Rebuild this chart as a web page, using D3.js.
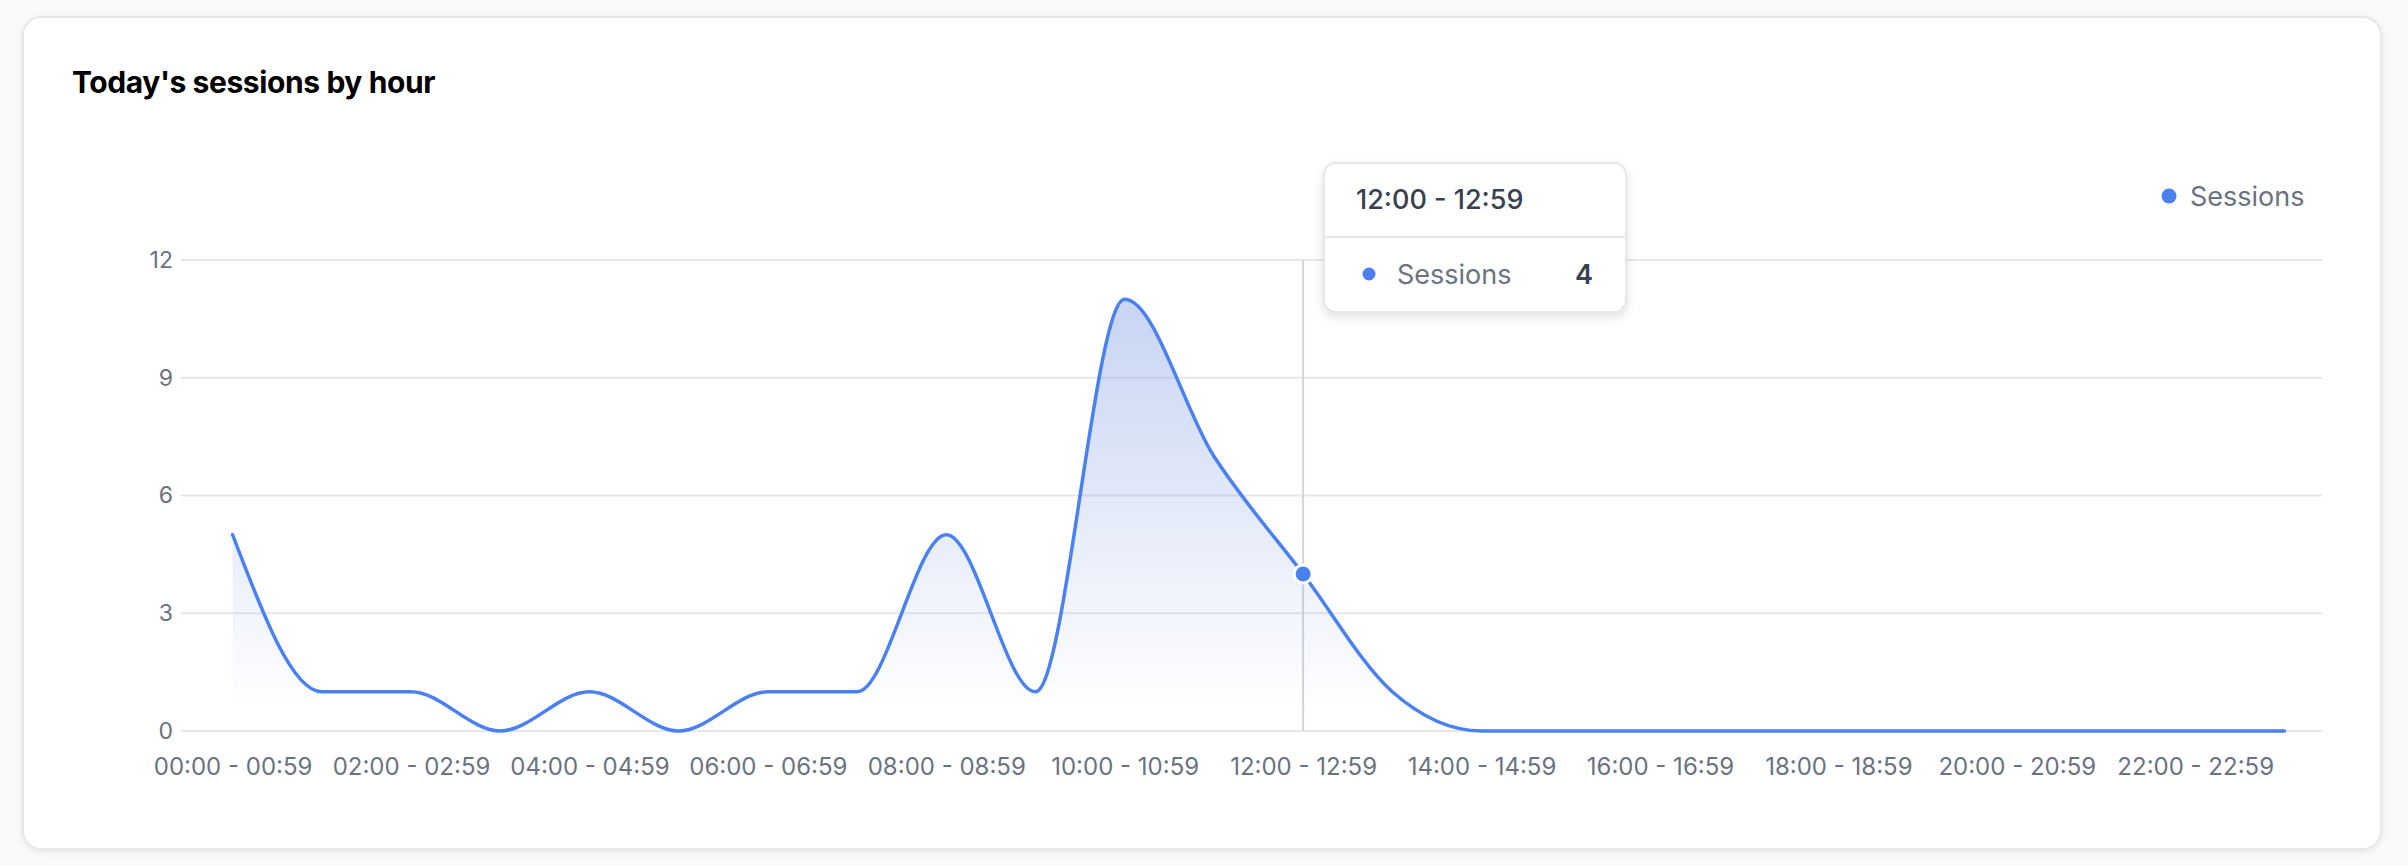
<!DOCTYPE html>
<html>
<head>
<meta charset="utf-8">
<script src="https://cdn.jsdelivr.net/npm/d3@7"></script>
<style>
  body { margin: 0; background: #fafafa; font-family: Inter, "Noto Sans", sans-serif; }
</style>
</head>
<body>
<script>
// data
let hours = [
  "00:00 - 00:59", "01:00 - 01:59", "02:00 - 02:59", "03:00 - 03:59",
  "04:00 - 04:59", "05:00 - 05:59", "06:00 - 06:59", "07:00 - 07:59",
  "08:00 - 08:59", "09:00 - 09:59", "10:00 - 10:59", "11:00 - 11:59",
  "12:00 - 12:59", "13:00 - 13:59", "14:00 - 14:59", "15:00 - 15:59",
  "16:00 - 16:59", "17:00 - 17:59", "18:00 - 18:59", "19:00 - 19:59",
  "20:00 - 20:59", "21:00 - 21:59", "22:00 - 22:59", "23:00 - 23:59"
];
let sessions = [5, 1, 1, 0, 1, 0, 1, 1, 5, 1, 11, 7, 4, 1, 0, 0, 0, 0, 0, 0, 0, 0, 0, 0];
let yTicks = [0, 3, 6, 9, 12];
let xTicks = hours.filter((h, i) => i % 2 === 0);
let activeHour = "12:00 - 12:59";
let seriesName = "Sessions";

let width = 2408;
let height = 866;
let blue = "#4a80f0";
let gray = "#6b7280";

let svg = d3.select("body").append("svg")
  .attr("width", width)
  .attr("height", height);

let defs = svg.append("defs");

let shadow = defs.append("filter").attr("id", "shadow")
  .attr("x", "-10%").attr("y", "-10%").attr("width", "120%").attr("height", "130%");
shadow.append("feDropShadow").attr("dx", 0).attr("dy", 2).attr("stdDeviation", 3)
  .attr("flood-color", "#000").attr("flood-opacity", 0.08);

let tipShadow = defs.append("filter").attr("id", "tipShadow")
  .attr("x", "-20%").attr("y", "-20%").attr("width", "140%").attr("height", "160%");
tipShadow.append("feDropShadow").attr("dx", 0).attr("dy", 4).attr("stdDeviation", 5)
  .attr("flood-color", "#000").attr("flood-opacity", 0.12);

let grad = defs.append("linearGradient").attr("id", "fill")
  .attr("x1", 0).attr("y1", 0).attr("x2", 0).attr("y2", 1);
grad.append("stop").attr("offset", "5%").attr("stop-color", "#5a7fd8").attr("stop-opacity", 0.32);
grad.append("stop").attr("offset", "95%").attr("stop-color", "#5a7fd8").attr("stop-opacity", 0);

// card
svg.append("rect")
  .attr("x", 23).attr("y", 17)
  .attr("width", 2358).attr("height", 832)
  .attr("rx", 18)
  .attr("fill", "#ffffff")
  .attr("stroke", "#e5e7eb")
  .attr("stroke-width", 2)
  .attr("filter", "url(#shadow)");

svg.append("text")
  .attr("x", 72).attr("y", 93)
  .attr("font-size", 30)
  .attr("font-weight", 700)
  .attr("fill", "#000")
  .attr("letter-spacing", -0.4)
  .text("Today's sessions by hour");

// scales
let x = d3.scalePoint().domain(hours).range([188, 2329]).padding(0.5);
let y = d3.scaleLinear().domain([0, 12]).range([731, 260]);

// grid
svg.append("g")
  .selectAll("line")
  .data(yTicks)
  .join("line")
  .attr("x1", 181).attr("x2", 2322)
  .attr("y1", d => y(d)).attr("y2", d => y(d))
  .attr("stroke", "#e5e7eb")
  .attr("stroke-width", 2);

// y axis
let yAxis = svg.append("g")
  .attr("transform", "translate(173,0)")
  .call(d3.axisLeft(y).tickValues(yTicks).tickSize(0).tickPadding(0));
yAxis.select(".domain").remove();
yAxis.selectAll("text")
  .attr("font-family", "Inter, sans-serif")
  .attr("font-size", 23)
  .attr("fill", gray);

// x axis
let xAxis = svg.append("g")
  .attr("transform", "translate(0,758)")
  .call(d3.axisBottom(x).tickValues(xTicks).tickSize(0).tickPadding(0));
xAxis.select(".domain").remove();
xAxis.selectAll("text")
  .attr("font-family", "Inter, sans-serif")
  .attr("font-size", 24)
  .attr("fill", gray)
  .attr("dy", "0.71em");

// cursor line
svg.append("line")
  .attr("x1", x(activeHour)).attr("x2", x(activeHour))
  .attr("y1", y(12)).attr("y2", y(0))
  .attr("stroke", "#d1d5db")
  .attr("stroke-width", 2);

// area + line
let area = d3.area()
  .x((d, i) => x(hours[i]))
  .y0(y(0))
  .y1(d => y(d))
  .curve(d3.curveMonotoneX);

let line = d3.line()
  .x((d, i) => x(hours[i]))
  .y(d => y(d))
  .curve(d3.curveMonotoneX);

svg.append("path")
  .datum(sessions)
  .attr("d", area)
  .attr("fill", "url(#fill)");

svg.append("path")
  .datum(sessions)
  .attr("d", line)
  .attr("fill", "none")
  .attr("stroke", blue)
  .attr("stroke-width", 3.5)
  .attr("stroke-linejoin", "round")
  .attr("stroke-linecap", "round");

// active dot
let ai = hours.indexOf(activeHour);
svg.append("circle")
  .attr("cx", x(activeHour))
  .attr("cy", y(sessions[ai]))
  .attr("r", 9)
  .attr("fill", blue)
  .attr("stroke", "#ffffff")
  .attr("stroke-width", 3);

// legend
svg.append("circle")
  .attr("cx", 2169).attr("cy", 196)
  .attr("r", 7.5)
  .attr("fill", blue);
svg.append("text")
  .attr("x", 2190).attr("y", 197)
  .attr("dy", "0.35em")
  .attr("font-size", 27)
  .attr("fill", gray)
  .text(seriesName);

// tooltip
let tip = svg.append("g").attr("transform", "translate(1324,163)");
tip.append("rect")
  .attr("width", 302).attr("height", 149)
  .attr("rx", 12)
  .attr("fill", "#ffffff")
  .attr("stroke", "#e5e7eb")
  .attr("stroke-width", 2)
  .attr("filter", "url(#tipShadow)");
tip.append("line")
  .attr("x1", 1).attr("x2", 301)
  .attr("y1", 74).attr("y2", 74)
  .attr("stroke", "#e5e7eb")
  .attr("stroke-width", 2);
tip.append("text")
  .attr("x", 32).attr("y", 37)
  .attr("dy", "0.35em")
  .attr("font-size", 27)
  .attr("font-weight", 500)
  .attr("fill", "#374151")
  .text(activeHour);
tip.append("circle")
  .attr("cx", 45).attr("cy", 111)
  .attr("r", 8)
  .attr("fill", blue)
  .attr("stroke", "#ffffff")
  .attr("stroke-width", 3);
tip.append("text")
  .attr("x", 73).attr("y", 112)
  .attr("dy", "0.35em")
  .attr("font-size", 27)
  .attr("fill", gray)
  .text(seriesName);
tip.append("text")
  .attr("x", 269).attr("y", 112)
  .attr("dy", "0.35em")
  .attr("text-anchor", "end")
  .attr("font-size", 27)
  .attr("font-weight", 600)
  .attr("fill", "#374151")
  .text(sessions[ai]);
</script>
</body>
</html>
